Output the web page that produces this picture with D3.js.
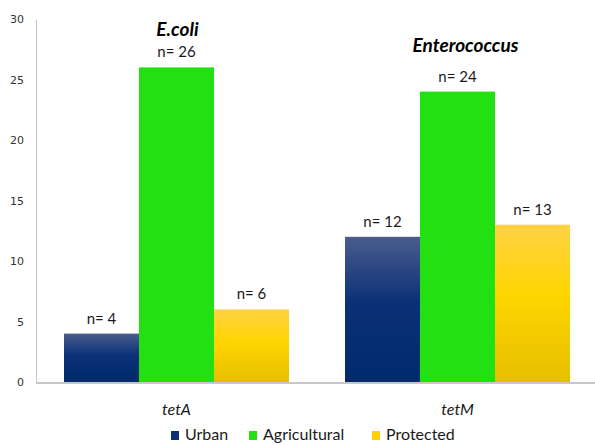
<!DOCTYPE html>
<meta charset="utf-8">
<style>
body { margin: 0; background: #fff; }
.tick text { font-family: "DejaVu Sans", Verdana, sans-serif; font-size: 11px; fill: #333; }
.lbl { font-family: Lato, "Open Sans", sans-serif; font-size: 15px; fill: #1a1a1a; }
</style>
<svg width="595" height="445"></svg>
<script src="https://d3js.org/d3.v7.min.js"></script>
<script>

var genes = ["tetA", "tetM"];
var titles = ["E.coli", "Enterococcus"];
var sites = ["Urban", "Agricultural", "Protected"];
var urban = [4, 12];
var agricultural = [26, 24];
var protectedArea = [6, 13];
var yTicks = [0, 5, 10, 15, 20, 25, 30];

var svg = d3.select("svg"),
    width = +svg.attr("width"),
    height = +svg.attr("height");

var values = [urban, agricultural, protectedArea];

var defs = svg.append("defs");
function grad(id, stops) {
  var g = defs.append("linearGradient").attr("id", id)
    .attr("x1", 0).attr("y1", 0).attr("x2", 0).attr("y2", 1);
  stops.forEach(function(s) {
    g.append("stop").attr("offset", s[0]).attr("stop-color", s[1]);
  });
}
grad("gUrban", [[0, "#4b5d8d"], [0.45, "#0b3077"], [1, "#002b6b"]]);
grad("gProt", [[0, "#ffd244"], [0.45, "#ffd500"], [1, "#e6bf00"]]);

var fills = ["url(#gUrban)", "#23e012", "url(#gProt)"];
var swatch = ["#0a2f77", "#23e012", "#ffd000"];

var x0 = d3.scaleBand().domain(genes).range([36, 598]).padding(0);
var x1 = d3.scaleBand().domain(sites).range([28, 253]);
var y = d3.scaleLinear().domain([0, 30]).range([382, 19]);

// y axis
var yAxis = svg.append("g")
  .attr("transform", "translate(36,0)")
  .call(d3.axisLeft(y).tickValues(yTicks).tickSize(0).tickPadding(12));
yAxis.select(".domain").attr("stroke", "#c4c4c4");

// bars
genes.forEach(function(gene, gi) {
  var g = svg.append("g").attr("transform", "translate(" + x0(gene) + ",0)");
  sites.forEach(function(site, si) {
    var v = values[si][gi];
    g.append("rect")
      .attr("x", x1(site))
      .attr("y", y(v))
      .attr("width", x1.bandwidth())
      .attr("height", y(0) - y(v))
      .attr("fill", fills[si]);
    g.append("text")
      .attr("class", "lbl")
      .attr("x", x1(site) + x1.bandwidth() / 2)
      .attr("y", y(v) - 10)
      .attr("text-anchor", "middle")
      .text("n= " + v);
  });
  // x label
  svg.append("text")
    .attr("class", "lbl")
    .attr("x", x0(gene) + x0.bandwidth() / 2)
    .attr("y", 415)
    .attr("text-anchor", "middle")
    .style("font-style", "italic")
    .style("font-size", "16px")
    .text(gene);
});

// organism titles
var titleY = [36, 52];
var titleDx = [1, 8];
titles.forEach(function(t, i) {
  svg.append("text")
    .attr("class", "lbl")
    .attr("x", x0(genes[i]) + x0.bandwidth() / 2 + titleDx[i])
    .attr("y", titleY[i])
    .attr("text-anchor", "middle")
    .style("font-weight", "bold")
    .style("font-style", "italic")
    .style("font-size", "19px")
    .style("fill", "#000")
    .text(t);
});

// x axis line
svg.append("line")
  .attr("x1", 36).attr("x2", 595)
  .attr("y1", 383).attr("y2", 383)
  .attr("stroke", "#c8c8c8").attr("stroke-width", 2);

// legend
var legX = [171, 249, 372];
var leg = svg.append("g");
sites.forEach(function(s, i) {
  leg.append("rect")
    .attr("x", legX[i]).attr("y", 431)
    .attr("width", 8).attr("height", 9)
    .attr("fill", swatch[i]);
  leg.append("text")
    .attr("class", "lbl")
    .attr("x", legX[i] + 14).attr("y", 440)
    .style("font-size", "16px")
    .text(s);
});

</script>
